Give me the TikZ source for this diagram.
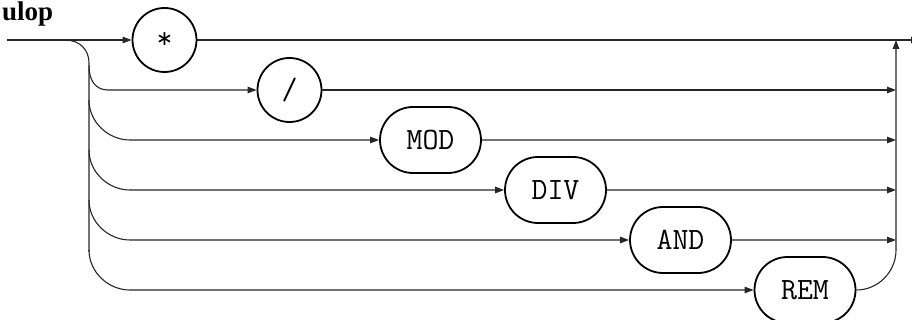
\documentclass[tikz,border=0pt]{standalone}
\usepackage{fontspec}
\setmainfont{Liberation Serif}
\usetikzlibrary{shapes.misc,arrows.meta}
\begin{document}
\begin{tikzpicture}[x=1pt,y=-1pt,
  conn/.style={line width=1.1pt,draw=black!85},
  arr/.style={-{Triangle[length=9pt,width=6.5pt]}},
  term/.style={draw,line width=1.8pt,circle,minimum size=64pt,inner sep=0pt,font=\ttfamily\fontsize{31}{32}\selectfont},
  kw/.style={draw,line width=1.8pt,rounded rectangle,minimum width=101pt,minimum height=66pt,inner sep=0pt,font=\ttfamily\fontsize{31}{32}\selectfont}]
\useasboundingbox (0,0) rectangle (912,320);
\node[anchor=base west,inner sep=0pt,font=\bfseries\fontsize{27}{29}\selectfont] (title) at (2,21) {ulop};
\node[term] (star) at (164.5,40) {*};
\node[term] (slash) at (289.5,90) {/};
\node[kw] (mod) at (430.5,140) {MOD};
\node[kw] (div) at (555.5,190) {DIV};
\node[kw] (and) at (680.5,240) {AND};
\node[kw] (rem) at (805,290) {REM};
\coordinate (start) at (7,40);
\coordinate (split) at (65,40);
\coordinate (vtop) at (89,63);
\coordinate (vbot) at (89,252);
\coordinate (endr) at (920,40);
\coordinate (jtop) at (896,40);
\coordinate (jbot) at (896,250);
\foreach \n/\y in {r2/90,r3/140,r4/190,r5/240,r6/290} {\coordinate (\n) at (896,\y);}
% main line
\draw[conn,arr] (start) -- (star);
\draw[conn,arr] (star) -- (endr);
% left branches
\draw[conn] (split) .. controls (80,40) and (89,50) .. (vtop) -- (vbot);
\draw[conn,arr] (89,66) .. controls (89,81) and (96,90) .. (108,90) -- (slash);
\draw[conn,arr] (89,100) .. controls (89,122) and (108,140) .. (130,140) -- (mod);
\draw[conn,arr] (89,150) .. controls (89,172) and (108,190) .. (130,190) -- (div);
\draw[conn,arr] (89,200) .. controls (89,222) and (108,240) .. (130,240) -- (and);
\draw[conn,arr] (89,250) .. controls (89,272) and (108,290) .. (130,290) -- (rem);
% right side
\draw[conn,arr] (slash) -- (r2);
\draw[conn,arr] (mod) -- (r3);
\draw[conn,arr] (div) -- (r4);
\draw[conn,arr] (and) -- (r5);
\draw[conn,arr] (rem) .. controls (878,290) and (896,272) .. (jbot) -- (jtop);
\end{tikzpicture}
\end{document}
